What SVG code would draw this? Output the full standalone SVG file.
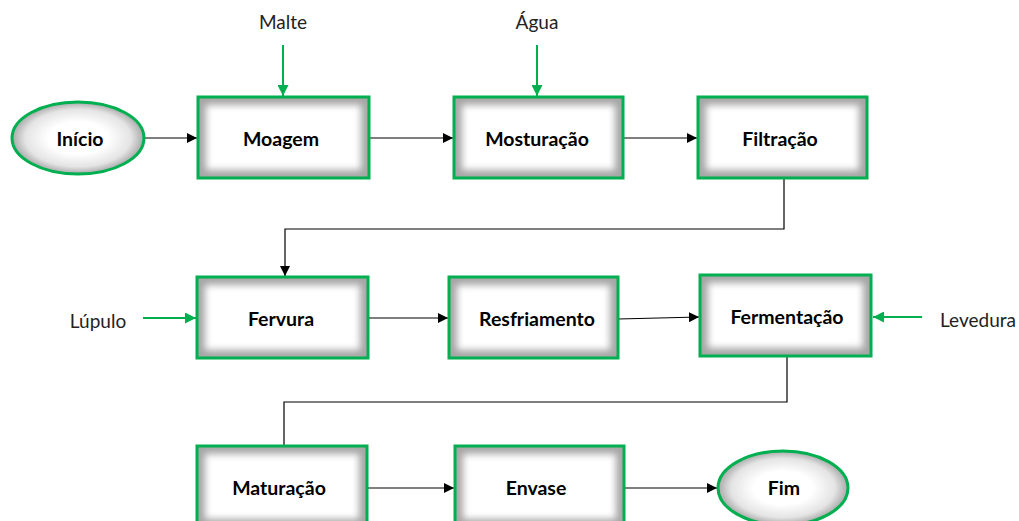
<svg xmlns="http://www.w3.org/2000/svg" width="1019" height="521" viewBox="0 0 1019 521">
<style>
.box{stroke:#00b050;stroke-width:3;fill:none}
.sh{fill:#a6a6a6}
.wh{fill:#fff}
.ell{fill:url(#rg)}
.lbl{font-family:Lato,"Liberation Sans",sans-serif;font-weight:bold;font-size:19.5px;fill:#000;text-anchor:middle;dominant-baseline:central}
.side{font-family:Lato,"Liberation Sans",sans-serif;font-size:19px;fill:#222;text-anchor:middle;dominant-baseline:central}
.con{stroke:#000;stroke-width:1.2;fill:none}
.gcon{stroke:#00b050;stroke-width:2;fill:none}
</style>
<defs>
<filter id="blur" x="-20%" y="-20%" width="140%" height="140%"><feGaussianBlur stdDeviation="3.5"/></filter>
<radialGradient id="rg" cx="50%" cy="50%" r="50%"><stop offset="0.45" stop-color="#fff"/><stop offset="0.8" stop-color="#e4e4e4"/><stop offset="1" stop-color="#a8a8a8"/></radialGradient>
<marker id="ab" viewBox="0 0 10 10" refX="10" refY="5" markerWidth="10" markerHeight="10" markerUnits="userSpaceOnUse" orient="auto"><path d="M0,0L10,5L0,10z" fill="#000"/></marker>
<marker id="ag" viewBox="0 0 10 10" refX="10" refY="5" markerWidth="11" markerHeight="11" markerUnits="userSpaceOnUse" orient="auto"><path d="M0,0L10,5L0,10z" fill="#00b050"/></marker>
<clipPath id="c1"><rect x="198" y="97" width="171" height="81"/></clipPath>
<clipPath id="c2"><rect x="454" y="97" width="169" height="81"/></clipPath>
<clipPath id="c3"><rect x="698" y="97" width="169" height="81"/></clipPath>
<clipPath id="c4"><rect x="197" y="277" width="171" height="81"/></clipPath>
<clipPath id="c5"><rect x="449" y="277" width="169" height="81"/></clipPath>
<clipPath id="c6"><rect x="700" y="275" width="171" height="81"/></clipPath>
<clipPath id="c7"><rect x="197" y="446" width="170" height="81"/></clipPath>
<clipPath id="c8"><rect x="455" y="446" width="169" height="81"/></clipPath>
</defs>
<rect width="1019" height="521" fill="#fff"/>
<g id="connectors">
<path class="con" d="M144,138H197" marker-end="url(#ab)"/>
<path class="con" d="M370,138H453" marker-end="url(#ab)"/>
<path class="con" d="M623,138H697" marker-end="url(#ab)"/>
<path class="con" d="M784,179V229H285V276" marker-end="url(#ab)"/>
<path class="con" d="M369,318H448" marker-end="url(#ab)"/>
<path class="con" d="M618,319L699,317" marker-end="url(#ab)"/>
<path class="con" d="M787,357V402H284V445"/>
<path class="con" d="M368,488H454" marker-end="url(#ab)"/>
<path class="con" d="M624,488H717" marker-end="url(#ab)"/>
<path class="gcon" d="M283,45V96" marker-end="url(#ag)"/>
<path class="gcon" d="M537,45V96" marker-end="url(#ag)"/>
<path class="gcon" d="M143,318H196" marker-end="url(#ag)"/>
<path class="gcon" d="M922,317H873" marker-end="url(#ag)"/>
</g>
<g id="inicio"><ellipse class="ell" cx="78" cy="138" rx="66" ry="36"/><ellipse class="box" cx="78" cy="138" rx="66" ry="36"/><text class="lbl" x="80" y="138">Início</text></g>
<g id="moagem"><g clip-path="url(#c1)"><rect class="sh" x="198" y="97" width="171" height="81"/><rect class="wh" x="206" y="105" width="155" height="65" filter="url(#blur)"/></g><rect class="box" x="198" y="97" width="171" height="81"/><text class="lbl" x="281" y="138">Moagem</text></g>
<g id="mosturacao"><g clip-path="url(#c2)"><rect class="sh" x="454" y="97" width="169" height="81"/><rect class="wh" x="462" y="105" width="153" height="65" filter="url(#blur)"/></g><rect class="box" x="454" y="97" width="169" height="81"/><text class="lbl" x="537" y="138">Mosturação</text></g>
<g id="filtracao"><g clip-path="url(#c3)"><rect class="sh" x="698" y="97" width="169" height="81"/><rect class="wh" x="706" y="105" width="153" height="65" filter="url(#blur)"/></g><rect class="box" x="698" y="97" width="169" height="81"/><text class="lbl" x="780" y="138">Filtração</text></g>
<g id="fervura"><g clip-path="url(#c4)"><rect class="sh" x="197" y="277" width="171" height="81"/><rect class="wh" x="205" y="285" width="155" height="65" filter="url(#blur)"/></g><rect class="box" x="197" y="277" width="171" height="81"/><text class="lbl" x="281" y="318">Fervura</text></g>
<g id="resfriamento"><g clip-path="url(#c5)"><rect class="sh" x="449" y="277" width="169" height="81"/><rect class="wh" x="457" y="285" width="153" height="65" filter="url(#blur)"/></g><rect class="box" x="449" y="277" width="169" height="81"/><text class="lbl" x="537" y="318">Resfriamento</text></g>
<g id="fermentacao"><g clip-path="url(#c6)"><rect class="sh" x="700" y="275" width="171" height="81"/><rect class="wh" x="708" y="283" width="155" height="65" filter="url(#blur)"/></g><rect class="box" x="700" y="275" width="171" height="81"/><text class="lbl" x="787" y="316">Fermentação</text></g>
<g id="maturacao"><g clip-path="url(#c7)"><rect class="sh" x="197" y="446" width="170" height="81"/><rect class="wh" x="205" y="454" width="154" height="65" filter="url(#blur)"/></g><rect class="box" x="197" y="446" width="170" height="81"/><text class="lbl" x="279" y="487">Maturação</text></g>
<g id="envase"><g clip-path="url(#c8)"><rect class="sh" x="455" y="446" width="169" height="81"/><rect class="wh" x="463" y="454" width="153" height="65" filter="url(#blur)"/></g><rect class="box" x="455" y="446" width="169" height="81"/><text class="lbl" x="536" y="487">Envase</text></g>
<g id="fim"><ellipse class="ell" cx="783" cy="488" rx="65" ry="37"/><ellipse class="box" cx="783" cy="488" rx="65" ry="37"/><text class="lbl" x="784" y="487">Fim</text></g>
<g id="inputs">
<text class="side" x="283" y="21">Malte</text>
<text class="side" x="537" y="21">Água</text>
<text class="side" x="98" y="320">Lúpulo</text>
<text class="side" x="978" y="319">Levedura</text>
</g>
</svg>
